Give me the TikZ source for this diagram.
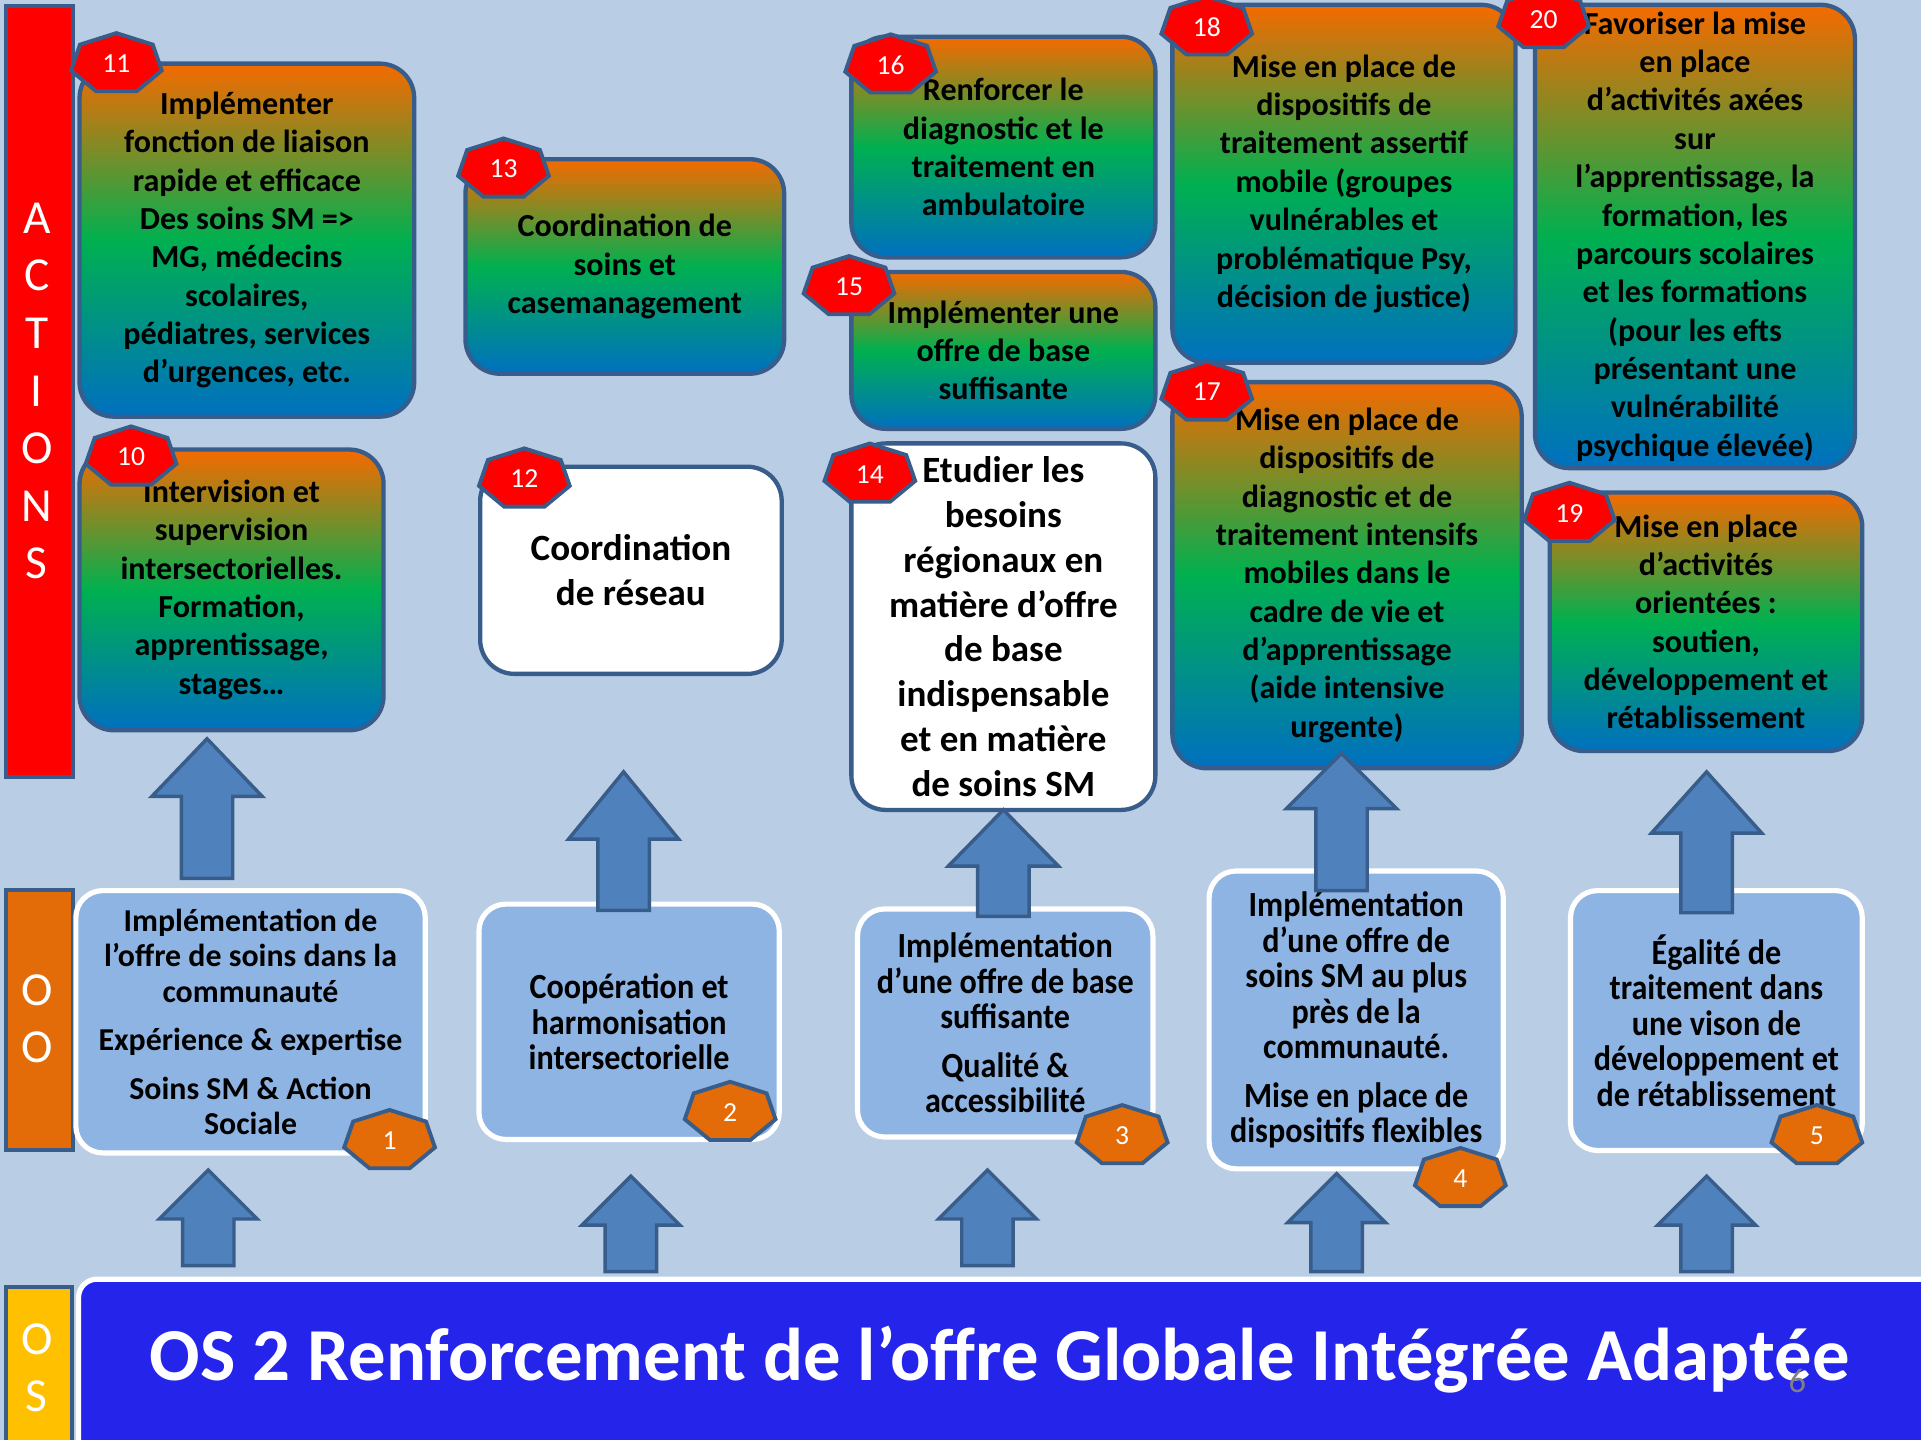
\documentclass[tikz,border=0pt]{standalone}
\usepackage{fontspec}
\setmainfont{Carlito}
\definecolor{bgblue}{HTML}{B9CDE5}
\definecolor{edge}{HTML}{385D8A}
\definecolor{arrowfill}{HTML}{4F81BD}
\definecolor{oofill}{HTML}{8EB4E3}
\definecolor{gorange}{HTML}{F56A00}
\definecolor{ggreen}{HTML}{00B050}
\definecolor{gblue}{HTML}{0070C0}
\definecolor{barorange}{HTML}{E36C09}
\definecolor{baryellow}{HTML}{FFC000}
\definecolor{titleblue}{HTML}{2424EB}
\tikzset{
    actbox/.style={rounded corners=0.28cm, draw=edge, line width=1pt, top color=gorange, bottom color=gblue, middle color=ggreen, inner sep=0pt},
    whitebox/.style={rounded corners=0.28cm, draw=edge, line width=1pt, fill=white, inner sep=0pt},
    oobox/.style={rounded corners=0.22cm, draw=white, line width=1.2pt, fill=oofill, inner sep=0pt},
    acttext/.style={align=center, inner sep=0pt, font=\bfseries\fontsize{7.45}{8.9}\selectfont},
    bigtext/.style={align=center, inner sep=0pt, font=\bfseries\fontsize{8.6}{10.4}\selectfont},
    ootext/.style={align=center, inner sep=0pt, font=\bfseries\fontsize{8.2}{8.25}\selectfont\addfontfeature{FakeStretch=0.91}},
    sidebar/.style={draw=edge, line width=0.9pt, inner sep=0pt, anchor=north west},
    barletter/.style={text=white, inner sep=0pt, font=\fontsize{11}{13}\selectfont},
    blockarrow/.style={draw=edge, fill=arrowfill, line width=0.8pt},
    badgeshape/.style={draw=edge, line width=0.9pt},
    badgenum/.style={text=white, inner sep=0pt, font=\fontsize{6.4}{7}\selectfont}
}
\newcommand{\blockup}[5]{\draw[blockarrow] (#1-21,#4) -- (#1-21,#3) -- (#1-#5,#3) -- (#1,#2) -- (#1+#5,#3) -- (#1+21,#3) -- (#1+21,#4) -- cycle;}
\begin{document}
\begin{tikzpicture}[x=0.01cm, y=-0.01cm]
    \useasboundingbox (0,0) rectangle (1568,1175);
    \clip (0,0) rectangle (1568,1175);
    \fill[bgblue] (0,0) rectangle (1568,1175);

    \node[sidebar, fill=red, minimum width=0.55cm, minimum height=6.29cm] (actions) at (3,3) {};
    \node[sidebar, fill=barorange, minimum width=0.55cm, minimum height=2.12cm] (oo) at (3,725) {};
    \node[sidebar, fill=baryellow, minimum width=0.54cm, minimum height=1.4cm] (os) at (3,1049) {};
    \foreach \l [count=\i] in {A,C,T,I,O,N,S}
        \node[barletter] (act\i) at (30,{178+(\i-1)*47}) {\l};
    \node[barletter] (oo1) at (30,808) {O};
    \node[barletter] (oo2) at (30,855) {O};
    \node[barletter] (os1) at (30,1093) {O};
    \node[barletter] (os2) at (30,1140) {S};

    \node[draw=white, line width=1.2pt, fill=titleblue, rounded corners=0.15cm, minimum width=15.4cm, minimum height=1.7cm, anchor=north west] (osbar) at (62,1042) {};
    \node[text=white, font=\bfseries\fontsize{17.35}{20}\selectfont] (title) at (816,1110) {OS 2 Renforcement de l’offre Globale Intégrée Adaptée};
    \node[text=gray, font=\fontsize{8}{9}\selectfont] (pagenum) at (1467,1127) {6};

    \foreach \n/\cx/\cy/\w/\h in {11/201.5/196/2.73/2.88, 10/189/481.5/2.48/2.29, 13/510/217.5/2.6/1.75, 16/819/120/2.48/1.8, 15/819/286/2.48/1.28, 18/1097/150/2.8/2.92, 17/1099.5/469.5/2.85/3.15, 20/1383.5/193/2.61/3.78, 19/1392.5/507.5/2.55/2.11}
        \node[actbox, minimum width=\w cm, minimum height=\h cm] (a\n) at (\cx,\cy) {};
    \node[whitebox, minimum width=2.46cm, minimum height=1.69cm] (a12) at (515,465.5) {};
    \node[whitebox, minimum width=2.48cm, minimum height=2.99cm] (a14) at (819,511.5) {};

    \node[acttext] (t11) at (a11) {Implémenter\\fonction de liaison\\rapide et efficace\\Des soins SM =>\\MG, médecins\\scolaires,\\pédiatres, services\\d’urgences, etc.};
    \node[acttext] (t10) at (a10) {Intervision et\\supervision\\intersectorielles.\\Formation,\\apprentissage,\\stages…};
    \node[acttext] (t13) at (a13) {Coordination de\\soins et\\casemanagement};
    \node[bigtext] (t12) at (a12) {Coordination\\de réseau};
    \node[acttext] (t16) at (a16) {Renforcer le\\diagnostic et le\\traitement en\\ambulatoire};
    \node[acttext] (t15) at (a15) {Implémenter une\\offre de base\\suffisante};
    \node[bigtext] (t14) at (a14) {Etudier les\\besoins\\régionaux en\\matière d’offre\\de base\\indispensable\\et en matière\\de soins SM};
    \node[acttext] (t18) at (a18) {Mise en place de\\dispositifs de\\traitement assertif\\mobile (groupes\\vulnérables et\\problématique Psy,\\décision de justice)};
    \node[acttext] (t17) at (a17) {Mise en place de\\dispositifs de\\diagnostic et de\\traitement intensifs\\mobiles dans le\\cadre de vie et\\d’apprentissage\\(aide intensive\\urgente)};
    \node[acttext] (t20) at (a20) {Favoriser la mise\\en place\\d’activités axées\\sur\\l’apprentissage, la\\formation, les\\parcours scolaires\\et les formations\\(pour les efts\\présentant une\\vulnérabilité\\psychique élevée)};
    \node[acttext] (t19) at (a19) {Mise en place\\d’activités\\orientées :\\soutien,\\développement et\\rétablissement};

    \foreach \n/\cx/\cy/\w/\h in {1/204.5/834/2.85/2.14, 2/513.5/834/2.45/1.92, 3/820.5/835/2.41/1.86, 4/1107/832.5/2.4/2.43, 5/1401/833/2.38/2.12}
        \node[oobox, minimum width=\w cm, minimum height=\h cm] (o\n) at (\cx,\cy) {};
    \node[ootext, font=\bfseries\fontsize{7.4}{8.25}\selectfont] (s1) at (o1) {Implémentation de\\l’offre de soins dans la\\communauté\\[3pt]Expérience \& expertise\\[3pt]Soins SM \& Action\\Sociale};
    \node[ootext] (s2) at (o2) {Coopération et\\harmonisation\\intersectorielle};
    \node[ootext] (s3) at (o3) {Implémentation\\d’une offre de base\\suffisante\\[3pt]Qualité \&\\accessibilité};
    \node[ootext] (s4) at (o4) {Implémentation\\d’une offre de\\soins SM au plus\\près de la\\communauté.\\[3pt]Mise en place de\\dispositifs flexibles};
    \node[ootext] (s5) at (o5) {Égalité de\\traitement dans\\une vison de\\développement et\\de rétablissement};

    \blockup{169}{603}{650}{717}{45}
    \blockup{509}{630}{685}{743}{45}
    \blockup{819}{661}{707}{748}{45}
    \blockup{1095}{615}{660}{727}{45}
    \blockup{1393}{630}{680}{745}{45}
    \blockup{170}{955}{995}{1033}{40}
    \blockup{515}{960}{1000}{1038}{40}
    \blockup{806}{955}{995}{1033}{40}
    \blockup{1091}{958}{998}{1038}{40}
    \blockup{1393}{960}{1000}{1038}{40}

    \foreach \n/\cx/\cy/\c in {11/95/52/red, 10/107/373/red, 13/411/138/red, 12/428/391/red, 16/727/53/red, 15/693/234/red, 14/710/387/red, 18/985/22/red, 17/985/320/red, 20/1260/16/red, 19/1281/419/red, 1/318/931/barorange, 2/596/908/barorange, 3/916/927/barorange, 4/1192/962/barorange, 5/1483/927/barorange} {
        \draw[badgeshape, fill=\c, shift={(\cx,\cy)}] (270:38 and 25) \foreach \k in {1,...,6} { -- ({270+\k*360/7}:38 and 25) } -- cycle;
        \node[badgenum] (b\n) at (\cx,\cy) {\n};
    }
\end{tikzpicture}
\end{document}
